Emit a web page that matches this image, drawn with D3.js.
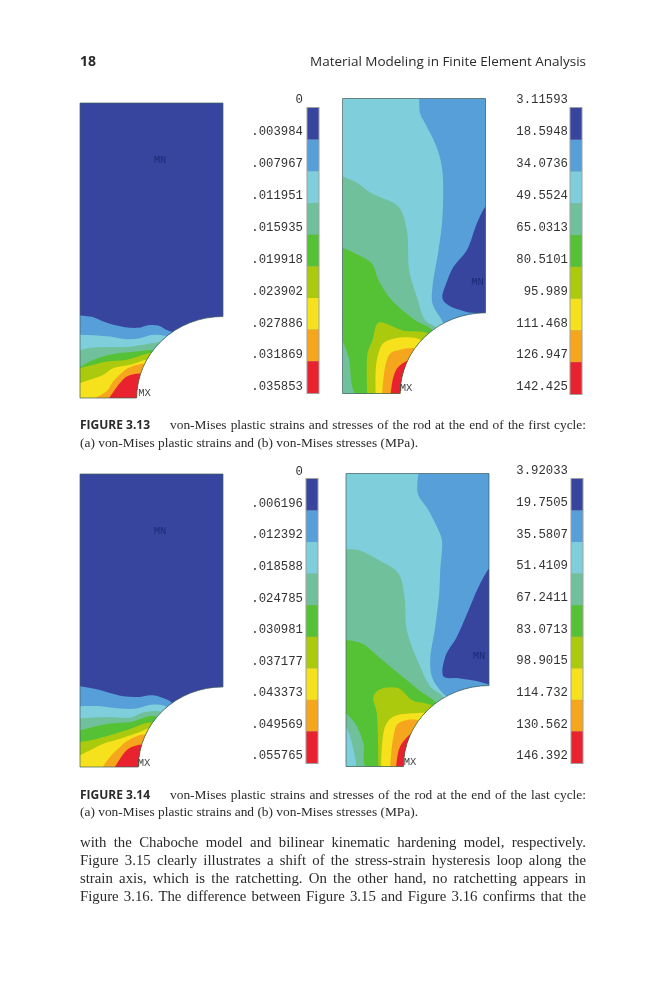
<!DOCTYPE html>
<html>
<head>
<meta charset="utf-8">
<script src="https://cdn.jsdelivr.net/npm/d3@7"></script>
<style>
  html, body { margin: 0; padding: 0; background: #fff; }
  svg { display: block; }
</style>
</head>
<body>
<div id="page"></div>
<script>
// legend colours, lowest band first
var bandColors = ["#38459f", "#569fd8", "#7ecedc", "#70c09c", "#55c136", "#abc90f", "#f5e11b", "#f6a61c", "#e8202e"];

// legend tick labels
var labels313a = ["0", ".003984", ".007967", ".011951", ".015935", ".019918", ".023902", ".027886", ".031869", ".035853"];
var labels313b = ["3.11593", "18.5948", "34.0736", "49.5524", "65.0313", "80.5101", "95.989", "111.468", "126.947", "142.425"];
var labels314a = ["0", ".006196", ".012392", ".018588", ".024785", ".030981", ".037177", ".043373", ".049569", ".055765"];
var labels314b = ["3.92033", "19.7505", "35.5807", "51.4109", "67.2411", "83.0713", "98.9015", "114.732", "130.562", "146.392"];

// contour outlines, [band, points], painted in this order
var contours313a = [
  [0, [[30,38],[459,38],[459,925],[30,925]]],
  [1, [[30,677],[70,682],[100,695],[130,705],[165,712],[205,714],[235,706],[265,707],[285,718],[315,735],[315,925],[30,925]]],
  [2, [[30,735],[80,737],[120,740],[170,748],[210,745],[250,735],[285,738],[305,745],[305,925],[30,925]]],
  [3, [[30,782],[60,775],[110,772],[170,772],[220,765],[250,760],[285,760],[285,925],[30,925]]],
  [4, [[30,832],[60,815],[100,800],[150,790],[200,785],[250,780],[275,785],[275,925],[30,925]]],
  [5, [[30,835],[70,825],[110,815],[170,810],[240,790],[260,790],[260,925],[30,925]]],
  [6, [[30,880],[60,870],[100,855],[130,835],[180,825],[230,810],[250,810],[250,925],[30,925]]],
  [7, [[75,925],[110,905],[130,875],[155,850],[175,835],[230,825],[230,925]]],
  [8, [[118,925],[150,880],[175,858],[222,855],[222,925]]]
];
var contours313b = [
  [2, [[22,25],[451,25],[451,910],[22,910]]],
  [1, [[252,25],[255,70],[270,100],[300,160],[320,230],[322,380],[310,480],[292,590],[292,640],[320,690],[340,720],[460,720],[460,25]]],
  [0, [[460,345],[451,350],[425,400],[395,480],[355,530],[335,575],[322,625],[340,645],[410,668],[460,668]]],
  [3, [[22,258],[60,275],[110,310],[190,350],[215,420],[222,540],[245,620],[270,690],[310,720],[310,925],[22,925]]],
  [4, [[22,473],[60,490],[110,520],[130,570],[170,630],[240,690],[295,725],[295,925],[70,925],[40,800],[22,750]]],
  [5, [[97,925],[97,790],[112,750],[130,698],[200,720],[290,738],[290,925]]],
  [6, [[122,925],[125,810],[150,755],[265,755],[265,925]]],
  [7, [[140,925],[150,830],[165,790],[190,780],[250,780],[250,925]]],
  [8, [[165,925],[175,860],[190,830],[232,810],[232,925]]]
];
var contours314a = [
  [0, [[30,42],[459,42],[459,920],[30,920]]],
  [1, [[30,678],[70,685],[110,695],[160,708],[210,710],[240,705],[270,710],[312,735],[312,925],[30,925]]],
  [2, [[30,738],[90,738],[150,745],[200,745],[250,733],[295,745],[295,925],[30,925]]],
  [3, [[30,775],[70,772],[120,770],[180,772],[225,755],[280,760],[280,925],[30,925]]],
  [4, [[30,810],[70,800],[120,790],[180,785],[260,770],[260,925],[30,925]]],
  [5, [[30,845],[70,838],[120,825],[170,810],[250,790],[250,925],[30,925]]],
  [6, [[30,885],[60,870],[100,850],[150,835],[210,815],[240,805],[240,925],[30,925]]],
  [7, [[95,925],[120,890],[150,860],[175,840],[230,825],[230,925]]],
  [8, [[132,925],[165,875],[185,860],[225,855],[225,925]]]
];
var contours314b = [
  [2, [[33,40],[461,40],[461,920],[33,920]]],
  [1, [[250,40],[248,100],[280,150],[305,200],[320,240],[315,330],[312,400],[300,500],[285,600],[290,650],[310,685],[345,715],[470,715],[470,40]]],
  [0, [[470,318],[461,325],[430,380],[400,450],[365,530],[330,590],[325,650],[370,655],[430,665],[470,677]]],
  [3, [[33,268],[70,270],[130,300],[190,340],[208,410],[215,510],[255,620],[285,680],[330,720],[330,925],[33,925]]],
  [4, [[33,540],[80,550],[130,590],[190,640],[250,690],[310,740],[310,925],[95,925],[85,850],[60,790],[33,760]]],
  [2, [[33,800],[45,830],[60,925],[33,925]]],
  [5, [[130,925],[125,760],[115,710],[135,688],[190,685],[230,720],[300,745],[300,925]]],
  [6, [[138,925],[150,800],[175,770],[235,760],[280,765],[280,925]]],
  [7, [[165,925],[175,830],[190,790],[255,785],[255,925]]],
  [8, [[183,925],[195,860],[235,820],[235,925]]]
];

var panels = [
  { contours: contours313a, labels: labels313a, left: 80, top: 103, width: 143, height: 295, domX: [30,459], domY: [38,925], hole: [200,680], mn: [160,159], mx: [144.5,392], barX: 307, barY: [108,393], labelX: 303, labelY: [99,386] },
  { contours: contours313b, labels: labels313b, left: 342.5, top: 98.5, width: 143, height: 295, domX: [22,451], domY: [25,910], hole: [195,668], mn: [477.5,281], mx: [406,387], barX: 570, barY: [108,394], labelX: 568, labelY: [99,386] },
  { contours: contours314a, labels: labels314a, left: 80, top: 474, width: 143, height: 293, domX: [30,459], domY: [42,920], hole: [205,680], mn: [160,530], mx: [144,762], barX: 306, barY: [479,763], labelX: 303, labelY: [471,755] },
  { contours: contours314b, labels: labels314b, left: 346, top: 473.5, width: 143, height: 293, domX: [33,461], domY: [40,920], hole: [205,677], mn: [479,655], mx: [410,761], barX: 571, barY: [479,763], labelX: 568, labelY: [470,755] }
];

// page text
var headNumber = "18";
var headTitle = "Material Modeling in Finite Element Analysis";
var captions = [
  { tag: "FIGURE 3.13", first: "von-Mises plastic strains and stresses of the rod at the end of the first cycle:", second: "(a) von-Mises plastic strains and (b) von-Mises stresses (MPa).", y: 429 },
  { tag: "FIGURE 3.14", first: "von-Mises plastic strains and stresses of the rod at the end of the last cycle:", second: "(a) von-Mises plastic strains and (b) von-Mises stresses (MPa).", y: 798.5 }
];
var bodyLines = [
  "with the Chaboche model and bilinear kinematic hardening model, respectively.",
  "Figure 3.15 clearly illustrates a shift of the stress-strain hysteresis loop along the",
  "strain axis, which is the ratchetting. On the other hand, no ratchetting appears in",
  "Figure 3.16. The difference between Figure 3.15 and Figure 3.16 confirms that the"
];

var svg = d3.select("#page").append("svg")
  .attr("width", 666)
  .attr("height", 1000);

var defs = svg.append("defs");
function addBlur(id, amount)
{
  defs.append("filter")
    .attr("id", id)
    .attr("x", "-5%").attr("y", "-5%").attr("width", "110%").attr("height", "110%")
    .append("feGaussianBlur").attr("stdDeviation", amount);
}
addBlur("soft", 0.5);
addBlur("softText", 0.3);

function drawPanel(p, i)
{
  var x = d3.scaleLinear().domain(p.domX).range([p.left, p.left + p.width]);
  var y = d3.scaleLinear().domain(p.domY).range([p.top, p.top + p.height]);

  //rod outline: a rectangle with a quarter hole cut out of the lower right corner
  var rx = x(p.domX[1]) - x(p.hole[0]);
  var ry = y(p.domY[1]) - y(p.hole[1]);
  var outline = "M" + x(p.domX[0]) + "," + y(p.domY[0])
    + "L" + x(p.domX[1]) + "," + y(p.domY[0])
    + "L" + x(p.domX[1]) + "," + y(p.hole[1])
    + "A" + rx + "," + ry + " 0 0 0 " + x(p.hole[0]) + "," + y(p.domY[1])
    + "L" + x(p.domX[0]) + "," + y(p.domY[1]) + "Z";

  defs.append("clipPath")
    .attr("id", "rod" + i)
    .append("path")
    .attr("d", outline);

  var line = d3.line()
    .curve(d3.curveCatmullRom.alpha(0.5))
    .x(function(d) { return x(d[0]); })
    .y(function(d) { return y(d[1]); });

  var g = svg.append("g").attr("filter", "url(#soft)");

  g.append("g")
    .attr("clip-path", "url(#rod" + i + ")")
    .selectAll("path")
    .data(p.contours)
    .enter()
    .append("path")
    .attr("d", function(d) { return line(d[1]) + "Z"; })
    .style("fill", function(d) { return bandColors[d[0]]; });

  g.append("path")
    .attr("d", outline)
    .style("fill", "none")
    .style("stroke", "#3f5f5a")
    .style("stroke-width", 0.7);

  //min and max markers
  g.append("text").attr("x", p.mn[0]).attr("y", p.mn[1]).attr("text-anchor", "middle").attr("dy", "0.35em")
    .style("font", "10.5px 'Liberation Mono'").style("fill", "#1c2a78").text("MN");
  g.append("text").attr("x", p.mx[0]).attr("y", p.mx[1]).attr("text-anchor", "middle").attr("dy", "0.35em")
    .style("font", "10.5px 'Liberation Mono'").style("fill", "#444").text("MX");

  //legend bar
  var band = d3.scaleBand().domain(d3.range(bandColors.length)).range(p.barY);
  var legend = svg.append("g").attr("filter", "url(#soft)");
  legend.append("rect")
    .attr("x", p.barX - 0.5).attr("y", p.barY[0] - 1)
    .attr("width", 13).attr("height", p.barY[1] - p.barY[0] + 2)
    .style("fill", "#a0a0a0");
  legend.selectAll("rect.cell")
    .data(bandColors)
    .enter()
    .append("rect")
    .attr("class", "cell")
    .attr("x", p.barX + 0.5)
    .attr("y", function(d, k) { return band(k); })
    .attr("width", 11)
    .attr("height", band.bandwidth())
    .style("fill", function(d) { return d; });

  //legend labels
  var labelY = d3.scalePoint().domain(p.labels).range(p.labelY);
  var labelGroup = svg.append("g").attr("filter", "url(#softText)");
  labelGroup.selectAll("text")
    .data(p.labels)
    .enter()
    .append("text")
    .attr("x", p.labelX)
    .attr("y", function(d) { return labelY(d); })
    .attr("dy", "0.35em")
    .attr("text-anchor", "end")
    .style("font", "12.3px 'Liberation Mono'")
    .style("fill", "#333")
    .text(function(d) { return d; });
}

panels.forEach(drawPanel);

var pageText = svg.append("g").attr("filter", "url(#softText)");

//stretches the word gaps so a line fills the column, as the typesetter did
function justify(sel, endX)
{
  sel.each(function() {
    var node = d3.select(this);
    var words = node.text().split(" ").length - 1;
    var room = endX - (+node.attr("x")) - this.getComputedTextLength();
    node.style("word-spacing", (room / words) + "px");
  });
}

//running head
pageText.append("text").attr("x", 80).attr("y", 65.5)
  .style("font", "bold 14px 'Open Sans'").style("fill", "#2a2a2a").text(headNumber);
pageText.append("text").attr("x", 586).attr("y", 65.5).attr("text-anchor", "end")
  .style("font", "13.5px 'Open Sans'").style("fill", "#2a2a2a")
  .attr("textLength", 276).text(headTitle);

//figure captions
captions.forEach(function(c) {
  pageText.append("text").attr("x", 80).attr("y", c.y)
    .style("font", "bold 12px 'Open Sans'").style("fill", "#2a2a2a").text(c.tag);
  pageText.append("text").attr("x", 170).attr("y", c.y)
    .style("font", "13.4px 'Liberation Serif'").style("fill", "#2a2a2a").text(c.first)
    .call(justify, 586);
  pageText.append("text").attr("x", 80).attr("y", c.y + 17.5)
    .style("font", "13.4px 'Liberation Serif'").style("fill", "#2a2a2a").text(c.second);
});

//body text
pageText.selectAll("text.body")
  .data(bodyLines)
  .enter()
  .append("text")
  .attr("class", "body")
  .attr("x", 80)
  .attr("y", function(d, i) { return 846.5 + i * 18; })
  .style("font", "14.8px 'Liberation Serif'")
  .style("fill", "#2a2a2a")
  .text(function(d) { return d; })
  .call(justify, 586);
</script>
</body>
</html>
